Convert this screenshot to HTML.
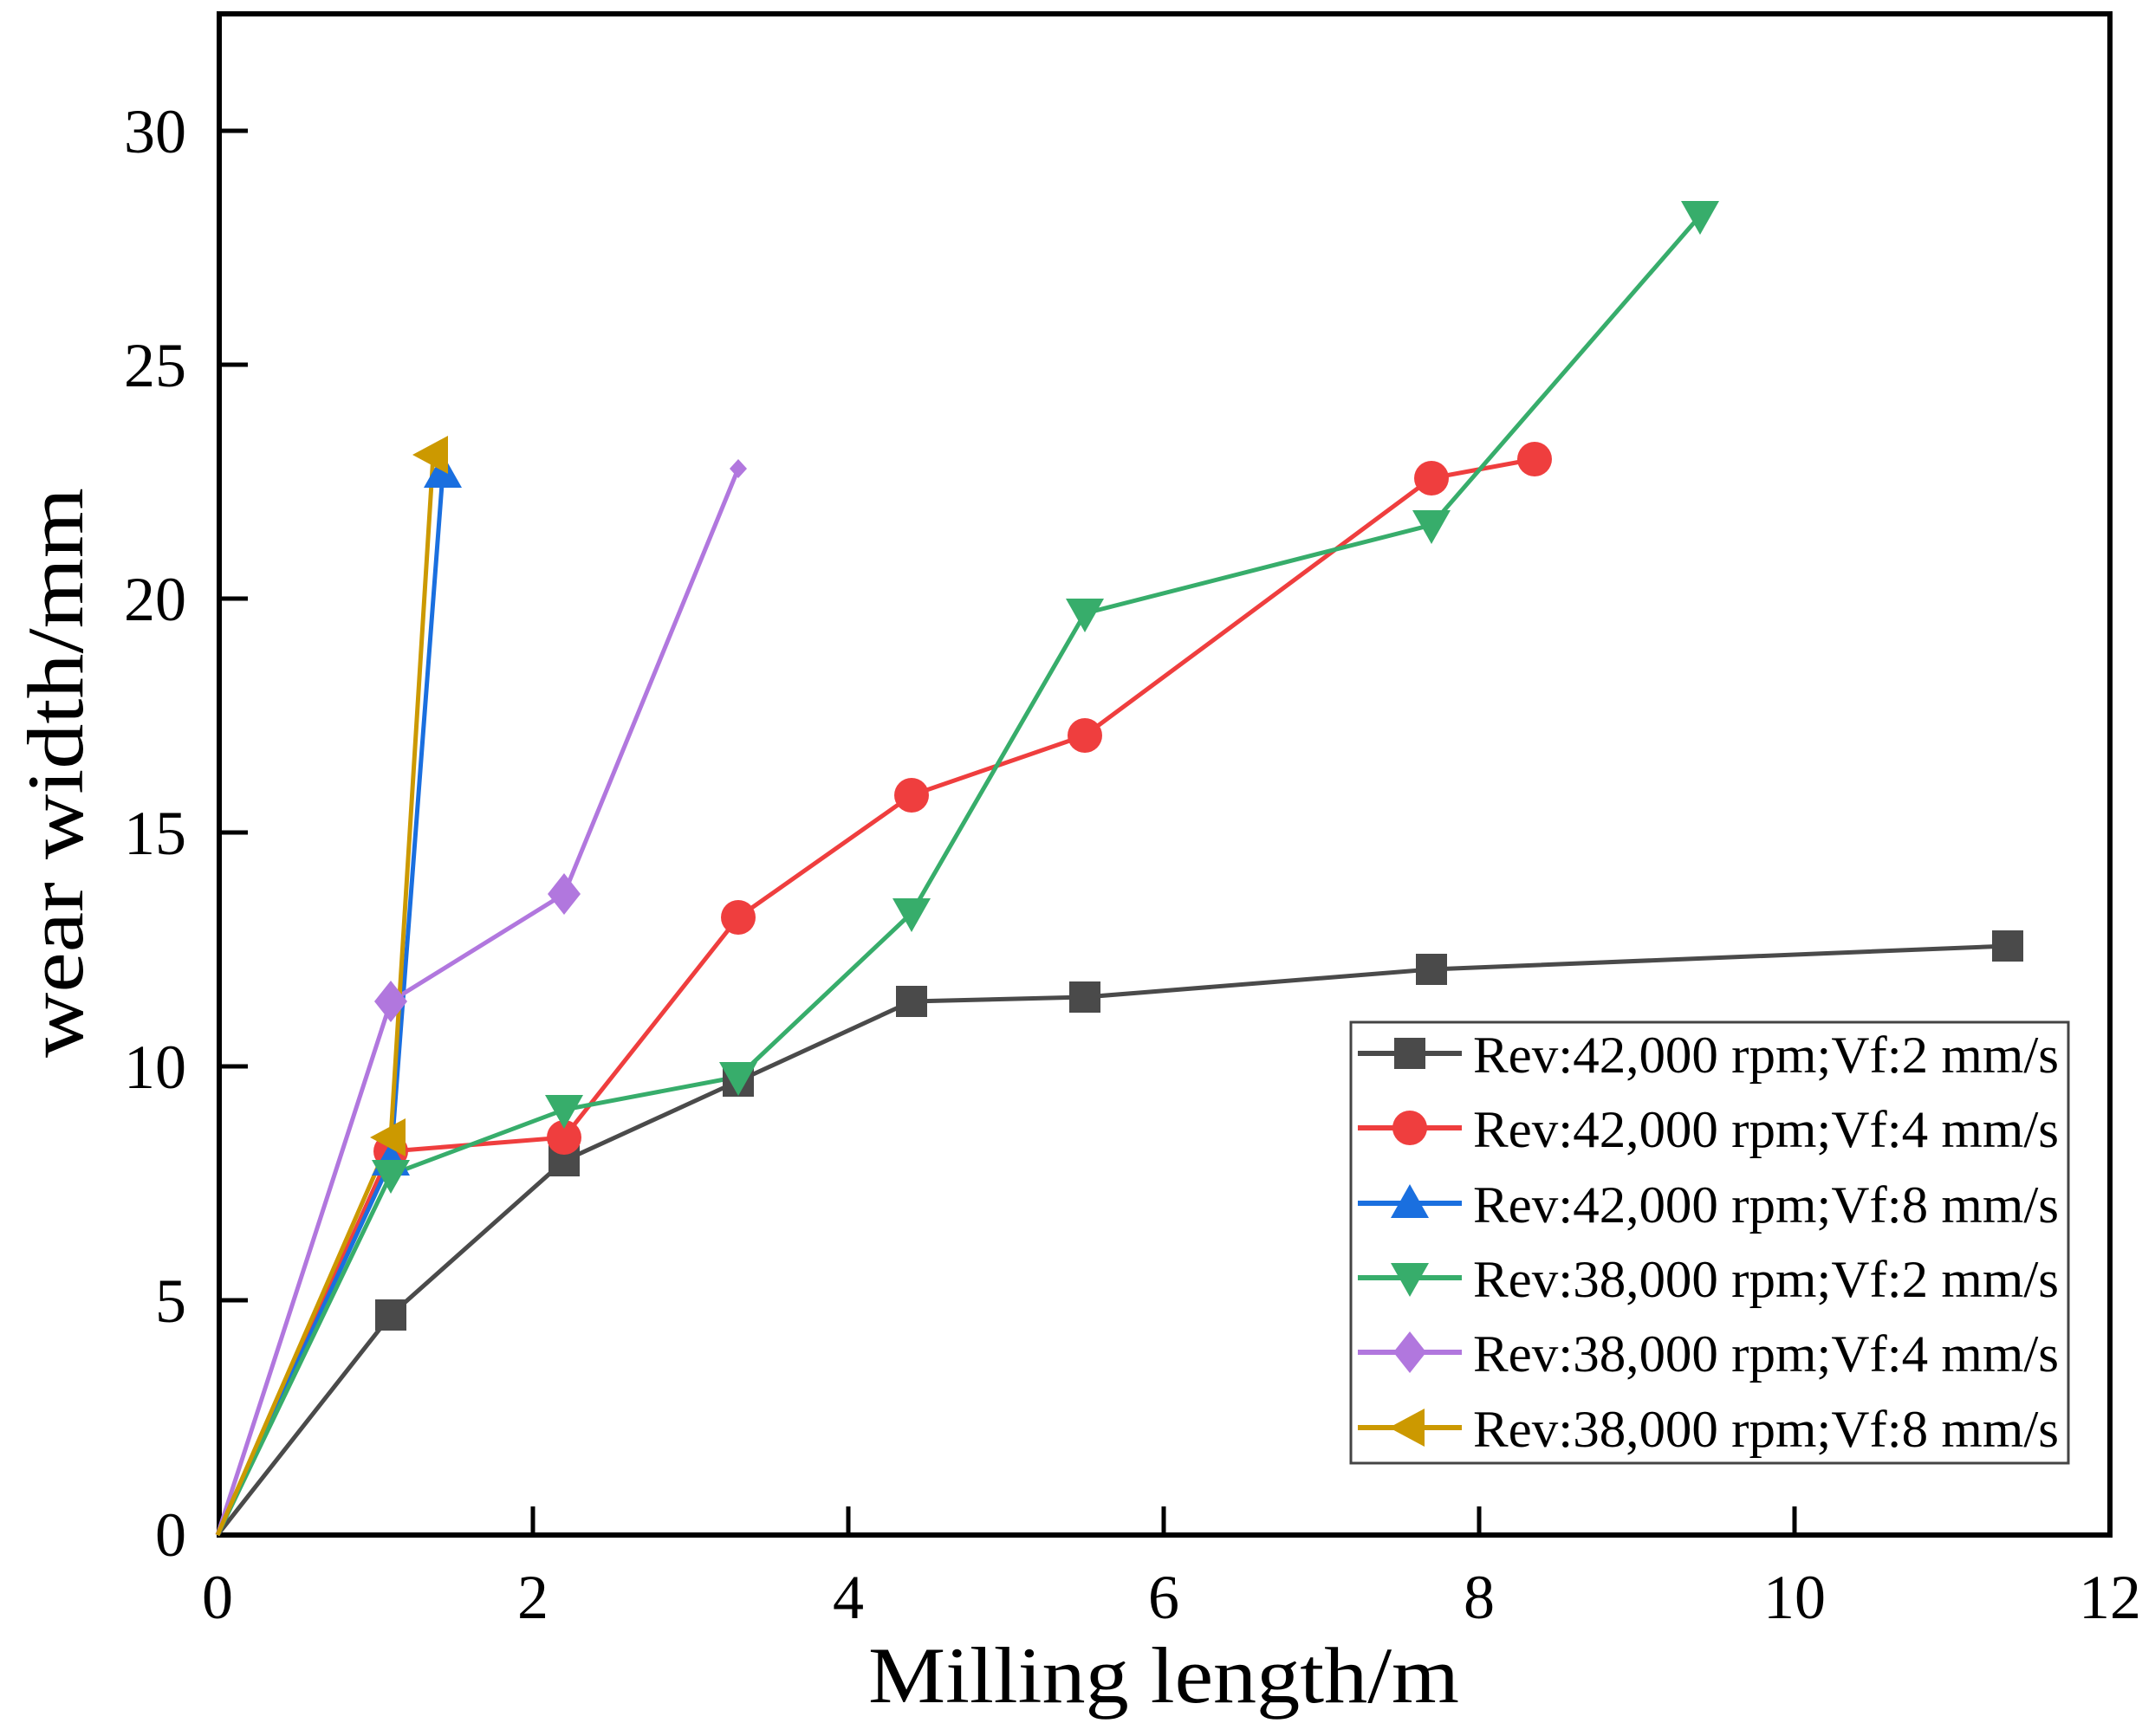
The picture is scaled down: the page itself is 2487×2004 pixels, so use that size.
<!DOCTYPE html>
<html><head><meta charset="utf-8"><style>html,body{margin:0;padding:0;background:#fff}svg{display:block}</style></head><body>
<svg width="2487" height="2004" viewBox="0 0 2487 2004" xmlns="http://www.w3.org/2000/svg" font-family="Liberation Serif, serif">
<defs>
<g id="sq"><rect x="-18" y="-18" width="36" height="36"/></g>
<g id="ci"><circle r="20"/></g>
<g id="tu"><polygon points="0,-22 22,17 -22,17"/></g>
<g id="td"><polygon points="0,22 22,-17 -22,-17"/></g>
<g id="di"><polygon points="0,-24 19,0 0,24 -19,0"/></g>
<g id="tl"><polygon points="-24,0 17,-22 17,22"/></g>
</defs>
<rect x="253" y="16" width="2182" height="1756" fill="none" stroke="#000" stroke-width="6"/>
<g stroke="#000" stroke-width="5">
<line x1="253" y1="151" x2="286" y2="151"/><line x1="253" y1="421" x2="286" y2="421"/><line x1="253" y1="691" x2="286" y2="691"/><line x1="253" y1="961" x2="286" y2="961"/><line x1="253" y1="1231" x2="286" y2="1231"/><line x1="253" y1="1501" x2="286" y2="1501"/>
<line x1="615" y1="1772" x2="615" y2="1739"/><line x1="979" y1="1772" x2="979" y2="1739"/><line x1="1343" y1="1772" x2="1343" y2="1739"/><line x1="1707" y1="1772" x2="1707" y2="1739"/><line x1="2071" y1="1772" x2="2071" y2="1739"/>
</g>
<g font-size="72" text-anchor="end">
<text x="215" y="176">30</text><text x="215" y="446">25</text><text x="215" y="716">20</text><text x="215" y="986">15</text><text x="215" y="1256">10</text><text x="215" y="1526">5</text><text x="215" y="1796">0</text>
</g>
<g font-size="72" text-anchor="middle">
<text x="251" y="1868">0</text><text x="615" y="1868">2</text><text x="979" y="1868">4</text><text x="1343" y="1868">6</text><text x="1707" y="1868">8</text><text x="2071" y="1868">10</text><text x="2435" y="1868">12</text>
</g>
<text x="1002" y="1965" font-size="92" textLength="682" lengthAdjust="spacingAndGlyphs">Milling length/m</text>
<text transform="translate(95,1221) rotate(-90)" font-size="92" textLength="658" lengthAdjust="spacingAndGlyphs">wear width/mm</text>
<g fill="none" stroke-width="5">
<polyline stroke="#4a4a4a" points="251,1772 451,1518 651,1340 852,1248 1052,1156 1252,1151 1652,1119 2317,1092"/>
<polyline stroke="#ef3e3e" points="251,1772 451,1329 651,1313 852,1059 1052,918 1252,849 1652,552 1771,530"/>
<polyline stroke="#1a6fdf" points="251,1772 451,1340 511,546"/>
<polyline stroke="#37ad6b" points="251,1772 451,1356 651,1281 852,1243 1052,1054 1252,708 1652,606 1962,249"/>
<polyline stroke="#b177de" points="251,1772 451,1156 651,1032 852,541"/>
<polyline stroke="#cc9900" points="251,1772 451,1313 500,525"/>
</g>
<g fill="#4a4a4a"><use href="#sq" x="451" y="1518"/><use href="#sq" x="651" y="1340"/><use href="#sq" x="852" y="1248"/><use href="#sq" x="1052" y="1156"/><use href="#sq" x="1252" y="1151"/><use href="#sq" x="1652" y="1119"/><use href="#sq" x="2317" y="1092"/></g>
<g fill="#ef3e3e"><use href="#ci" x="451" y="1329"/><use href="#ci" x="651" y="1313"/><use href="#ci" x="852" y="1059"/><use href="#ci" x="1052" y="918"/><use href="#ci" x="1252" y="849"/><use href="#ci" x="1652" y="552"/><use href="#ci" x="1771" y="530"/></g>
<g fill="#1a6fdf"><use href="#tu" x="451" y="1340"/><use href="#tu" x="511" y="546"/></g>
<g fill="#37ad6b"><use href="#td" x="451" y="1356"/><use href="#td" x="651" y="1281"/><use href="#td" x="852" y="1243"/><use href="#td" x="1052" y="1054"/><use href="#td" x="1252" y="708"/><use href="#td" x="1652" y="606"/><use href="#td" x="1962" y="249"/></g>
<g fill="#b177de"><use href="#di" x="451" y="1156"/><use href="#di" x="651" y="1032"/><polygon points="852,530 862,541 852,552 842,541"/></g>
<g fill="#cc9900"><use href="#tl" x="451" y="1313"/><use href="#tl" x="500" y="525"/></g>
<rect x="1559" y="1180" width="828" height="509" fill="#fff" stroke="#444" stroke-width="3"/>
<g stroke-width="6">
<line x1="1567" x2="1687" y1="1216" y2="1216" stroke="#4a4a4a"/>
<line x1="1567" x2="1687" y1="1302" y2="1302" stroke="#ef3e3e"/>
<line x1="1567" x2="1687" y1="1389" y2="1389" stroke="#1a6fdf"/>
<line x1="1567" x2="1687" y1="1475" y2="1475" stroke="#37ad6b"/>
<line x1="1567" x2="1687" y1="1561" y2="1561" stroke="#b177de"/>
<line x1="1567" x2="1687" y1="1648" y2="1648" stroke="#cc9900"/>
</g>
<use href="#sq" x="1627" y="1216" fill="#4a4a4a"/>
<use href="#ci" x="1627" y="1302" fill="#ef3e3e"/>
<use href="#tu" x="1627" y="1389" fill="#1a6fdf"/>
<use href="#td" x="1627" y="1475" fill="#37ad6b"/>
<use href="#di" x="1627" y="1561" fill="#b177de"/>
<use href="#tl" x="1627" y="1648" fill="#cc9900"/>
<g font-size="60">
<text x="1700" y="1238" textLength="676" lengthAdjust="spacingAndGlyphs">Rev:42,000 rpm;Vf:2 mm/s</text>
<text x="1700" y="1324" textLength="676" lengthAdjust="spacingAndGlyphs">Rev:42,000 rpm;Vf:4 mm/s</text>
<text x="1700" y="1411" textLength="676" lengthAdjust="spacingAndGlyphs">Rev:42,000 rpm;Vf:8 mm/s</text>
<text x="1700" y="1497" textLength="676" lengthAdjust="spacingAndGlyphs">Rev:38,000 rpm;Vf:2 mm/s</text>
<text x="1700" y="1583" textLength="676" lengthAdjust="spacingAndGlyphs">Rev:38,000 rpm;Vf:4 mm/s</text>
<text x="1700" y="1670" textLength="676" lengthAdjust="spacingAndGlyphs">Rev:38,000 rpm;Vf:8 mm/s</text>
</g>
</svg>
</body></html>
